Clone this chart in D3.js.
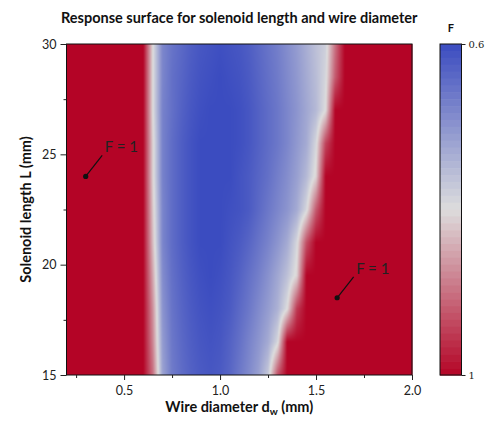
<!DOCTYPE html>
<html>
<head>
<meta charset="utf-8">
<script src="https://cdn.jsdelivr.net/npm/d3@7"></script>
<style>
  html, body { margin: 0; padding: 0; background: #fff; }
  svg { display: block; }
</style>
</head>
<body>
<svg id="chart" width="490" height="421"></svg>
<script>
// ---------------- DATA ----------------
const titleText = "Response surface for solenoid length and wire diameter";
const xTicks = [0.5, 1.0, 1.5, 2.0];
const xMinorTicks = [0.25, 0.75, 1.25, 1.75];
const yTicks = [15, 20, 25, 30];
const yMinorTicks = [17.5, 22.5, 27.5];
const colorbarTicks = [0.6, 1];
const colorbarTickLabels = ["0.6", "1"];

// grid of wire diameters (mm) and solenoid lengths (mm); outside the grid F = 1
const dGrid = [0.55, 0.60, 0.65, 0.70, 0.75, 0.80, 0.85, 0.90, 0.95, 1.00, 1.05, 1.10,
               1.15, 1.20, 1.25, 1.30, 1.35, 1.40, 1.45, 1.50, 1.55, 1.60, 1.65, 1.70];
const LGrid = [15, 16.5, 18, 19.5, 21, 22.5, 24, 25.5, 27, 28.5, 30];

const F_L15   = [1,1,0.90,0.72,0.665,0.645,0.63,0.62,0.615,0.62,0.635,0.66,0.685,0.715,0.77,0.93,1,1,1,1,1,1,1,1];
const F_L16_5 = [1,1,0.88,0.71,0.66,0.64,0.625,0.615,0.61,0.615,0.63,0.65,0.675,0.70,0.73,0.79,1,1,1,1,1,1,1,1];
const F_L18   = [1,1,0.87,0.70,0.655,0.635,0.62,0.61,0.605,0.61,0.62,0.64,0.66,0.685,0.71,0.74,0.80,0.95,1,1,1,1,1,1];
const F_L19_5 = [1,1,0.85,0.69,0.65,0.63,0.615,0.605,0.60,0.605,0.615,0.63,0.65,0.67,0.695,0.725,0.76,0.81,1,1,1,1,1,1];
const F_L21   = [1,1,0.83,0.68,0.645,0.625,0.61,0.60,0.60,0.60,0.61,0.62,0.635,0.655,0.675,0.70,0.73,0.79,0.93,1,1,1,1,1];
const F_L22_5 = [1,1,0.82,0.68,0.645,0.625,0.61,0.60,0.60,0.60,0.605,0.61,0.62,0.64,0.66,0.68,0.70,0.73,0.79,0.92,1,1,1,1];
const F_L24   = [1,1,0.81,0.675,0.645,0.625,0.61,0.60,0.60,0.60,0.60,0.61,0.62,0.635,0.65,0.67,0.69,0.715,0.75,0.81,1,1,1,1];
const F_L25_5 = [1,1,0.81,0.675,0.645,0.625,0.61,0.60,0.60,0.60,0.60,0.605,0.615,0.63,0.645,0.66,0.68,0.705,0.73,0.79,0.94,1,1,1];
const F_L27   = [1,1,0.80,0.675,0.65,0.63,0.615,0.605,0.60,0.60,0.60,0.605,0.615,0.63,0.645,0.66,0.68,0.70,0.725,0.75,0.80,1,1,1];
const F_L28_5 = [1,1,0.80,0.68,0.65,0.635,0.62,0.61,0.605,0.60,0.605,0.61,0.62,0.635,0.65,0.665,0.685,0.705,0.73,0.755,0.79,0.92,1,1];
const F_L30   = [1,1,0.80,0.68,0.655,0.64,0.625,0.615,0.61,0.605,0.61,0.615,0.625,0.64,0.655,0.67,0.69,0.71,0.735,0.76,0.78,0.90,1,1];

const annotationPoints = [
  { d: 0.30, L: 24.0, text: "F = 1" },
  { d: 1.61, L: 18.5, text: "F = 1" }
];

// ---------------- LAYOUT ----------------
const fValues = [F_L15, F_L16_5, F_L18, F_L19_5, F_L21, F_L22_5, F_L24, F_L25_5, F_L27, F_L28_5, F_L30];
const svg = d3.select("#chart");
const plot = { left: 66.5, right: 412, top: 44, bottom: 375 };
const cb = { left: 440, right: 461.5, top: 44, bottom: 375 };
const font = "Lato, 'Open Sans', sans-serif";

const x = d3.scaleLinear().domain([0.2, 2.0]).range([plot.left, plot.right]);
const y = d3.scaleLinear().domain([15, 30]).range([plot.bottom, plot.top]);
const color = d3.scaleLinear().domain([0.6, 0.8, 1.0])
  .range(["#3b4cc0", "#dddddd", "#b40426"]).clamp(true);

function fieldAt(d, L) {
  if (d < dGrid[0] || d > dGrid[dGrid.length - 1]) return 1;
  let ci = Math.min(d3.bisectRight(dGrid, d) - 1, dGrid.length - 2);
  let ri = Math.min(Math.max(d3.bisectRight(LGrid, L) - 1, 0), LGrid.length - 2);
  const tx = (d - dGrid[ci]) / (dGrid[ci + 1] - dGrid[ci]);
  let ty = (L - LGrid[ri]) / (LGrid[ri + 1] - LGrid[ri]);
  ty = Math.max(0, Math.min(1, ty));
  const a = fValues[ri][ci], b = fValues[ri][ci + 1];
  const c = fValues[ri + 1][ci], e = fValues[ri + 1][ci + 1];
  return (a * (1 - tx) + b * tx) * (1 - ty) + (c * (1 - tx) + e * tx) * ty;
}

// ---------------- SURFACE ----------------
const W = Math.round(plot.right - plot.left), H = Math.round(plot.bottom - plot.top);
const canvas = document.createElement("canvas");
canvas.width = W; canvas.height = H;
const ctx = canvas.getContext("2d");
const img = ctx.createImageData(W, H);
for (let j = 0; j < H; j++) {
  const L = y.invert(plot.top + j + 0.5);
  for (let i = 0; i < W; i++) {
    const d = x.invert(plot.left + i + 0.5);
    const c = d3.rgb(color(fieldAt(d, L)));
    const k = (j * W + i) * 4;
    img.data[k] = c.r; img.data[k + 1] = c.g; img.data[k + 2] = c.b; img.data[k + 3] = 255;
  }
}
ctx.putImageData(img, 0, 0);
svg.append("image")
  .attr("x", plot.left).attr("y", plot.top)
  .attr("width", W).attr("height", H)
  .attr("preserveAspectRatio", "none")
  .attr("href", canvas.toDataURL());

svg.append("rect")
  .attr("x", plot.left).attr("y", plot.top)
  .attr("width", plot.right - plot.left).attr("height", plot.bottom - plot.top)
  .attr("fill", "none").attr("stroke", "#111").attr("stroke-width", 1);

// ---------------- AXES ----------------
svg.append("g").attr("transform", `translate(0,${plot.bottom})`)
  .call(d3.axisBottom(x).tickValues(xTicks).tickFormat(d3.format(".1f")).tickSize(5).tickPadding(6));
svg.append("g").attr("transform", `translate(0,${plot.bottom})`)
  .call(d3.axisBottom(x).tickValues(xMinorTicks).tickFormat("").tickSize(3));
svg.append("g").attr("transform", `translate(${plot.left},0)`)
  .call(d3.axisLeft(y).tickValues(yTicks).tickFormat(d3.format("d")).tickSize(6).tickPadding(4));
svg.append("g").attr("transform", `translate(${plot.left},0)`)
  .call(d3.axisLeft(y).tickValues(yMinorTicks).tickFormat("").tickSize(3));
svg.selectAll(".domain").remove();
svg.selectAll(".tick line").attr("stroke", "#222");
svg.selectAll(".tick text").attr("font-family", font).attr("font-size", 12.5).attr("fill", "#222");

// ---------------- TITLES ----------------
svg.append("text").attr("x", (plot.left + plot.right) / 2).attr("y", 23)
  .attr("text-anchor", "middle").attr("font-family", font).attr("font-weight", "bold")
  .attr("font-size", 14.5).attr("fill", "#111").text(titleText);

const xl = svg.append("text").attr("x", (plot.left + plot.right) / 2).attr("y", 412)
  .attr("text-anchor", "middle").attr("font-family", font).attr("font-weight", "bold")
  .attr("font-size", 14.5).attr("fill", "#111");
xl.append("tspan").text("Wire diameter d");
xl.append("tspan").attr("dy", 3).attr("font-size", 10).text("w");
xl.append("tspan").attr("dy", -3).text(" (mm)");

svg.append("text")
  .attr("transform", `translate(31,${(plot.top + plot.bottom) / 2}) rotate(-90)`)
  .attr("text-anchor", "middle").attr("font-family", font).attr("font-weight", "bold")
  .attr("font-size", 14.5).attr("fill", "#111").text("Solenoid length L (mm)");

// ---------------- COLORBAR ----------------
const cbScale = d3.scaleLinear().domain([0.6, 1]).range([cb.top, cb.bottom]);
const nSteps = 48;
const stepEdges = d3.range(nSteps + 1).map(i => 0.6 + i * 0.4 / nSteps);
const steps = d3.pairs(stepEdges);
svg.append("g").selectAll("rect").data(steps).join("rect")
  .attr("x", cb.left).attr("width", cb.right - cb.left)
  .attr("y", s => cbScale(s[0]))
  .attr("height", s => cbScale(s[1]) - cbScale(s[0]) + 0.6)
  .attr("fill", s => color((s[0] + s[1]) / 2));
svg.append("rect").attr("x", cb.left).attr("y", cb.top)
  .attr("width", cb.right - cb.left).attr("height", cb.bottom - cb.top)
  .attr("fill", "none").attr("stroke", "#111").attr("stroke-width", 1);
const cbAxis = svg.append("g").attr("transform", `translate(${cb.right},0)`)
  .call(d3.axisRight(cbScale).tickValues(colorbarTicks)
    .tickFormat((v, i) => colorbarTickLabels[i]).tickSize(4).tickPadding(3));
cbAxis.select(".domain").remove();
cbAxis.selectAll(".tick line").attr("stroke", "#222");
cbAxis.selectAll(".tick text").attr("font-family", "'DejaVu Serif', serif")
  .attr("font-size", 10).attr("fill", "#222");
svg.append("text").attr("x", (cb.left + cb.right) / 2).attr("y", 32)
  .attr("text-anchor", "middle").attr("font-family", font).attr("font-weight", "bold")
  .attr("font-size", 11).attr("fill", "#111").text("F");

// ---------------- ANNOTATIONS ----------------
const ann = svg.append("g").selectAll("g").data(annotationPoints).join("g")
  .attr("transform", p => `translate(${x(p.d)},${y(p.L)})`);
ann.append("line").attr("x1", 0).attr("y1", 0).attr("x2", 16.5).attr("y2", -21)
  .attr("stroke", "#111").attr("stroke-width", 1.2);
ann.append("circle").attr("r", 2.6).attr("fill", "#111");
ann.append("text").attr("x", 19).attr("y", -24)
  .attr("font-family", font).attr("font-size", 15).attr("fill", "#222")
  .text(p => p.text);
</script>
</body>
</html>
